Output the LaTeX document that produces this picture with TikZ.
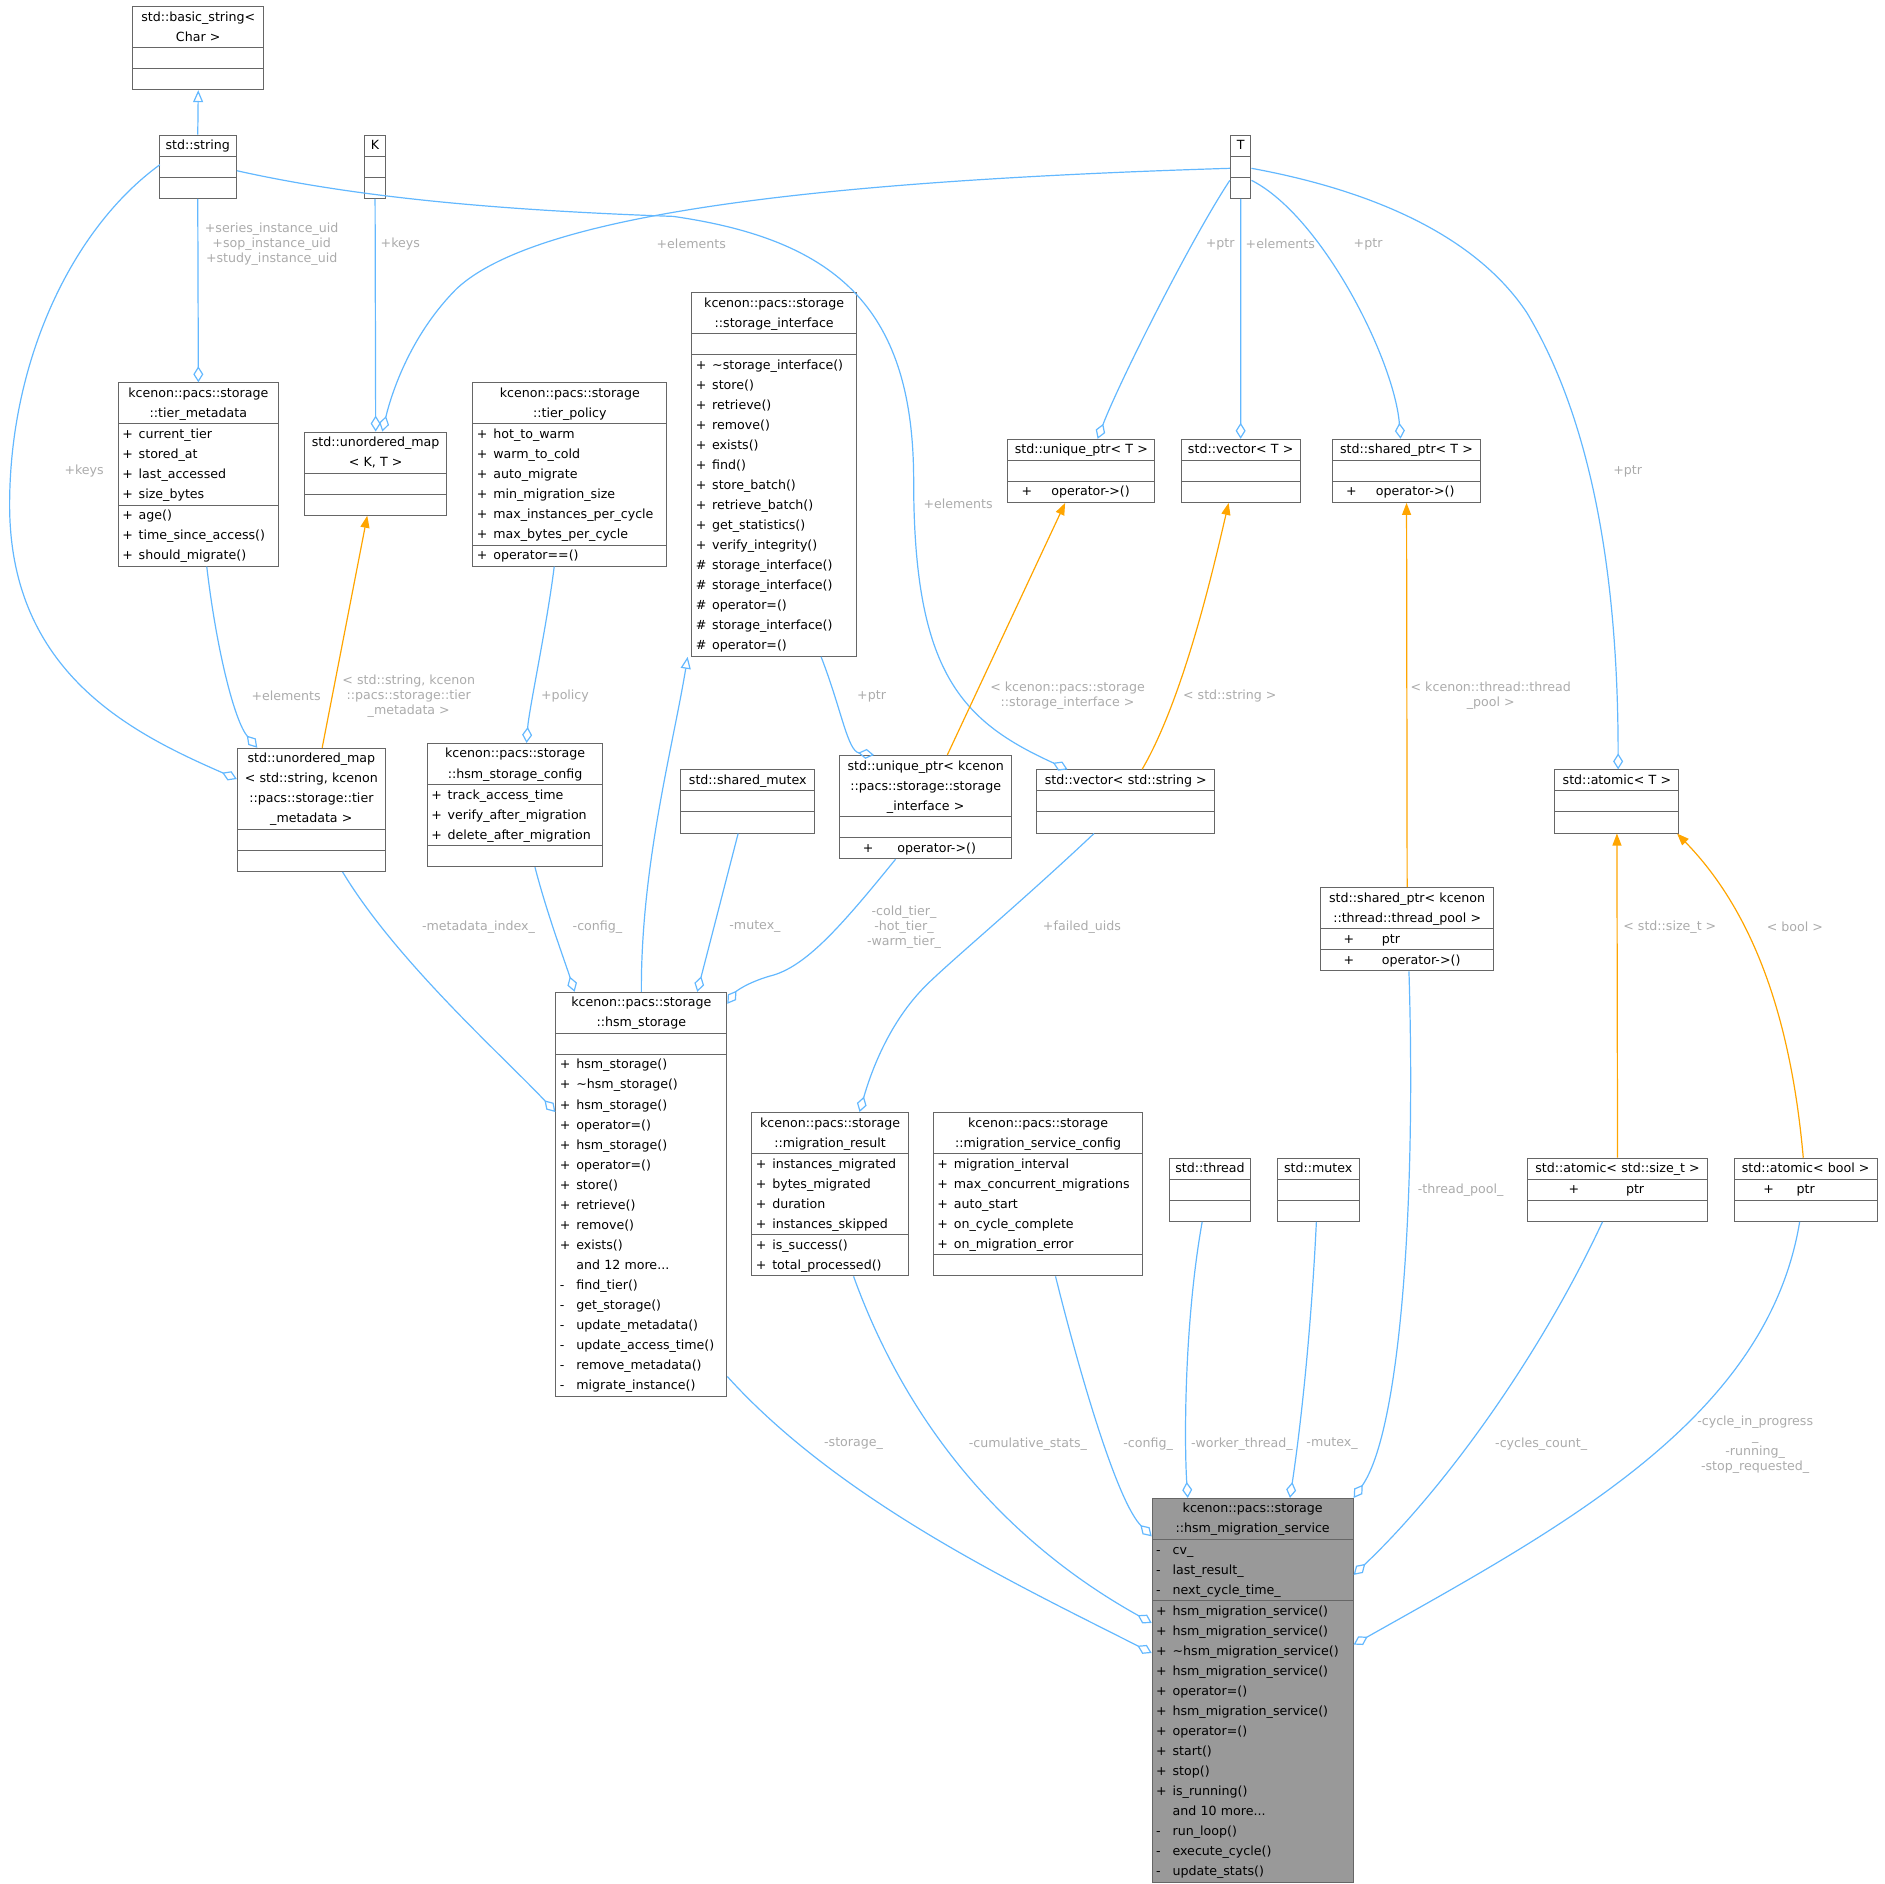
\documentclass[tikz,border=0pt]{standalone}
\usepackage{fontspec}
\setmainfont{DejaVu Sans}
\usetikzlibrary{shapes.multipart,arrows.meta,calc}
\definecolor{eb}{HTML}{63B8FF}
\definecolor{eo}{HTML}{FFA500}
\definecolor{bd}{HTML}{666666}
\definecolor{lg}{HTML}{ABABAB}
\newcommand\tl[1]{\centering\strut#1\par}
\newcommand\mm[2]{\strut\makebox[1.3em][l]{#1}#2\par}
\newcommand\pl[3]{\strut\hspace*{#1}+\hspace*{#2}#3\par}
\newcommand\E{\strut}
\newcommand\cls[6]{\node[cls,text width=#3pt] (#1) at (#2) {#4\nodepart{two}#5\nodepart{three}#6};}
\begin{document}
\catcode`\_=12
\setlength\parindent{0pt}
\begin{tikzpicture}[x=0.6pt,y=-0.6pt,
 cls/.style={draw=bd,fill=white,line width=0.5pt,rectangle split,rectangle split parts=3,
   anchor=north west,inner xsep=2pt,inner ysep=0pt,align=left,
   font=\fontsize{6.3}{10}\selectfont},
 ag/.style={draw=eb,line width=0.6pt,-{Diamond[open,length=8pt,width=5pt]}},
 ih/.style={draw=eb,line width=0.6pt,-{Triangle[open,length=6pt,width=5pt]}},
 tp/.style={draw=eo,line width=0.6pt,-{Triangle[length=6pt,width=4.5pt]}},
 lb/.style={text=lg,align=center,inner sep=0pt,font=\fontsize{6.3}{7.5}\selectfont}]
\useasboundingbox (0,0) rectangle (1568,1567);
% classes
\cls{bs}{110,5}{61.4}{\tl{std::basic_string<}\tl{Char >}}{\E}{\E}
\cls{str}{132,112}{34.5}{\tl{std::string}}{\E}{\E}
\cls{K}{303,112}{6.3}{\tl{K}}{\E}{\E}
\cls{T}{1023,112}{6.3}{\tl{T}}{\E}{\E}
\cls{tm}{98,318}{75.9}{\tl{kcenon::pacs::storage}\tl{::tier_metadata}}{\mm{+}{current_tier}\mm{+}{stored_at}\mm{+}{last_accessed}\mm{+}{size_bytes}}{\mm{+}{age()}\mm{+}{time_since_access()}\mm{+}{should_migrate()}}
\cls{umKT}{253,359}{66.9}{\tl{std::unordered_map}\tl{< K, T >}}{\E}{\E}
\cls{tpo}{393,318}{92.7}{\tl{kcenon::pacs::storage}\tl{::tier_policy}}{\mm{+}{hot_to_warm}\mm{+}{warm_to_cold}\mm{+}{auto_migrate}\mm{+}{min_migration_size}\mm{+}{max_instances_per_cycle}\mm{+}{max_bytes_per_cycle}}{\mm{+}{operator==()}}
\cls{si}{575,243}{78.3}{\tl{kcenon::pacs::storage}\tl{::storage_interface}}{\E}{\mm{+}{\textasciitilde storage_interface()}\mm{+}{store()}\mm{+}{retrieve()}\mm{+}{remove()}\mm{+}{exists()}\mm{+}{find()}\mm{+}{store_batch()}\mm{+}{retrieve_batch()}\mm{+}{get_statistics()}\mm{+}{verify_integrity()}\mm{\#}{storage_interface()}\mm{\#}{storage_interface()}\mm{\#}{operator=()}\mm{\#}{storage_interface()}\mm{\#}{operator=()}}
\cls{upT}{838,365}{69.3}{\tl{std::unique_ptr< T >}}{\E}{\pl{4.8pt}{9.6pt}{operator->()}}
\cls{vT}{982,365}{55.5}{\tl{std::vector< T >}}{\E}{\E}
\cls{spT}{1108,365}{69.9}{\tl{std::shared_ptr< T >}}{\E}{\pl{4.8pt}{9.6pt}{operator->()}}
\cls{umS}{197,622}{69.9}{\tl{std::unordered_map}\tl{< std::string, kcenon}\tl{::pacs::storage::tier}\tl{_metadata >}}{\E}{\E}
\cls{hsc}{355,618}{83.7}{\tl{kcenon::pacs::storage}\tl{::hsm_storage_config}}{\mm{+}{track_access_time}\mm{+}{verify_after_migration}\mm{+}{delete_after_migration}}{\E}
\cls{smx}{566,640}{62.7}{\tl{std::shared_mutex}}{\E}{\E}
\cls{upSI}{698,628}{81.9}{\tl{std::unique_ptr< kcenon}\tl{::pacs::storage::storage}\tl{_interface >}}{\E}{\pl{9.6pt}{12pt}{operator->()}}
\cls{vS}{862,640}{84.9}{\tl{std::vector< std::string >}}{\E}{\E}
\cls{aT}{1293,640}{57.9}{\tl{std::atomic< T >}}{\E}{\E}
\cls{spTP}{1098,738}{82.5}{\tl{std::shared_ptr< kcenon}\tl{::thread::thread_pool >}}{\pl{9.6pt}{13.8pt}{ptr}}{\pl{9.6pt}{13.8pt}{operator->()}}
\cls{hs}{462,825}{81.3}{\tl{kcenon::pacs::storage}\tl{::hsm_storage}}{\E}{\mm{+}{hsm_storage()}\mm{+}{\textasciitilde hsm_storage()}\mm{+}{hsm_storage()}\mm{+}{operator=()}\mm{+}{hsm_storage()}\mm{+}{operator=()}\mm{+}{store()}\mm{+}{retrieve()}\mm{+}{remove()}\mm{+}{exists()}\mm{}{and 12 more...}\mm{-}{find_tier()}\mm{-}{get_storage()}\mm{-}{update_metadata()}\mm{-}{update_access_time()}\mm{-}{remove_metadata()}\mm{-}{migrate_instance()}}
\cls{mr}{625,925}{74.1}{\tl{kcenon::pacs::storage}\tl{::migration_result}}{\mm{+}{instances_migrated}\mm{+}{bytes_migrated}\mm{+}{duration}\mm{+}{instances_skipped}}{\mm{+}{is_success()}\mm{+}{total_processed()}}
\cls{msc}{776,925}{100.5}{\tl{kcenon::pacs::storage}\tl{::migration_service_config}}{\mm{+}{migration_interval}\mm{+}{max_concurrent_migrations}\mm{+}{auto_start}\mm{+}{on_cycle_complete}\mm{+}{on_migration_error}}{\E}
\cls{th}{972,963}{36.9}{\tl{std::thread}}{\E}{\E}
\cls{mx}{1062,963}{36.9}{\tl{std::mutex}}{\E}{\E}
\cls{aS}{1270,963}{86.1}{\tl{std::atomic< std::size_t >}}{\pl{18.6pt}{23.4pt}{ptr}}{\E}
\cls{aB}{1442,963}{67.5}{\tl{std::atomic< bool >}}{\pl{12.6pt}{11.4pt}{ptr}}{\E}
\node[cls,text width=96.3pt,fill=black!40] (svc) at (958,1246) {\tl{kcenon::pacs::storage}\tl{::hsm_migration_service}\nodepart{two}\mm{-}{cv_}\mm{-}{last_result_}\mm{-}{next_cycle_time_}\nodepart{three}\mm{+}{hsm_migration_service()}\mm{+}{hsm_migration_service()}\mm{+}{\textasciitilde hsm_migration_service()}\mm{+}{hsm_migration_service()}\mm{+}{operator=()}\mm{+}{hsm_migration_service()}\mm{+}{operator=()}\mm{+}{start()}\mm{+}{stop()}\mm{+}{is_running()}\mm{}{and 10 more...}\mm{-}{run_loop()}\mm{-}{execute_cycle()}\mm{-}{update_stats()}};
% edges
\draw[ih] (str.north) -- (bs.south);
\draw[ag] ($(str.north west)+(1,25)$) .. controls (60,190) and (8,300) .. (8,420) .. controls (8,560) and (110,610) .. ($(umS.north west)+(0,26)$);
\node[lb] (l1) at (70,392) {+keys};
\draw[ag] (str.south) -- (tm.north);
\node[lb] (l2) at (226,203) {+series_instance_uid\\+sop_instance_uid\\+study_instance_uid};
\draw[ag] ($(str.north west)+(65,30)$) .. controls (300,165) and (420,175) .. (560,180) .. controls (700,200) and (760,260) .. (760,400) .. controls (760,560) and (800,600) .. ($(vS.north west)+(26,0)$);
\node[lb] (l3) at (797,419) {+elements};
\draw[ag] (K.south) -- (umKT.north);
\node[lb] (l4) at (333,203) {+keys};
\draw[ag] ($(T.north west)+(0,28)$) .. controls (700,150) and (450,175) .. (380,240) .. controls (340,280) and (325,330) .. ($(umKT.north west)+(65,0)$);
\node[lb] (l5) at (575,203) {+elements};
\draw[ag] ($(T.north west)+(0,38)$) .. controls (990,200) and (930,320) .. ($(upT.north west)+(75,0)$);
\node[lb] (l6) at (1015,203) {+ptr};
\draw[ag] (T.south) -- (vT.north);
\node[lb] (l7) at (1065,203) {+elements};
\draw[ag] ($(T.north west)+(18,38)$) .. controls (1100,180) and (1160,300) .. ($(spT.north west)+(57,0)$);
\node[lb] (l8) at (1138,203) {+ptr};
\draw[ag] ($(T.north west)+(18,28)$) .. controls (1150,160) and (1230,200) .. (1270,260) .. controls (1330,360) and (1346,500) .. ($(aT.north west)+(53,0)$);
\node[lb] (l9) at (1354,392) {+ptr};
\draw[ag] ($(tm.south)+(7,0)$) .. controls (180,540) and (195,600) .. ($(umS.north west)+(17,0)$);
\node[lb] (l10) at (238,579) {+elements};
\draw[tp] ($(umS.north)+(9,0)$) -- ($(umKT.south)+(-7,0)$);
\node[lb] (l11) at (340,579) {< std::string, kcenon\\::pacs::storage::tier\\_metadata >};
\draw[ag] ($(tpo.south)+(-13,0)$) .. controls (455,520) and (440,590) .. ($(hsc.north)+(9.5,0)$);
\node[lb] (l12) at (470,579) {+policy};
\draw[ag] ($(si.south)+(39,0)$) .. controls (700,590) and (705,625) .. ($(upSI.north)+(-43,0)$);
\node[lb] (l13) at (725,579) {+ptr};
\draw[tp] ($(upSI.north)+(18,0)$) -- ($(upT.south)+(-13.5,0)$);
\node[lb] (l14) at (888,579) {< kcenon::pacs::storage\\::storage_interface >};
\draw[tp] ($(vS.north)+(13.5,0)$) .. controls (985,580) and (1010,470) .. ($(vT.south)+(-10,0)$);
\node[lb] (l15) at (1023,579) {< std::string >};
\draw[tp] (spTP.north) -- (spT.south);
\node[lb] (l16) at (1240,579) {< kcenon::thread::thread\\_pool >};
\draw[tp] (aS.north) -- (aT.south);
\node[lb] (l17) at (1389,771) {< std::size_t >};
\draw[tp] ($(aB.north)+(-2,0)$) .. controls (1490,850) and (1460,760) .. ($(aT.south)+(50,0)$);
\node[lb] (l18) at (1493,771) {< bool >};
\draw[ih] (hs.north) .. controls (533,720) and (560,620) .. ($(si.south)+(-72,0)$);
\draw[ag] ($(umS.south)+(26,0)$) .. controls (330,800) and (420,880) .. ($(hs.north west)+(0,100)$);
\node[lb] (l19) at (398,771) {-metadata_index_};
\draw[ag] ($(hsc.south)+(16.5,0)$) .. controls (455,760) and (470,800) .. ($(hs.north)+(-55.5,0)$);
\node[lb] (l20) at (497,771) {-config_};
\draw[ag] ($(smx.south)+(-8,0)$) -- ($(hs.north)+(46.5,0)$);
\node[lb] (l21) at (628,771) {-mutex_};
\draw[ag] ($(upSI.south)+(-25,0)$) .. controls (700,770) and (670,805) .. (640,812) .. controls (620,818) and (612,825) .. ($(hs.north west)+(143,10)$);
\node[lb] (l22) at (752,771) {-cold_tier_\\-hot_tier_\\-warm_tier_};
\draw[ag] ($(vS.south)+(-26.5,0)$) .. controls (850,750) and (790,800) .. (770,820) .. controls (740,850) and (725,890) .. ($(mr.north)+(24.5,0)$);
\node[lb] (l23) at (900,771) {+failed_uids};
\draw[ag] ($(spTP.south)+(1.5,0)$) .. controls (1178,1000) and (1165,1190) .. ($(svc.north west)+(168,0)$);
\node[lb] (l24) at (1215,990) {-thread_pool_};
\draw[ag] ($(hs.north west)+(143,320)$) .. controls (700,1250) and (850,1320) .. ($(svc.north west)+(0,129)$);
\node[lb] (l25) at (710,1201) {-storage_};
\draw[ag] ($(mr.south)+(19.5,0)$) .. controls (760,1200) and (850,1290) .. ($(svc.north west)+(0,104)$);
\node[lb] (l26) at (855,1201) {-cumulative_stats_};
\draw[ag] ($(msc.south)+(14.5,0)$) .. controls (900,1150) and (930,1250) .. ($(svc.north west)+(0,32)$);
\node[lb] (l27) at (955,1201) {-config_};
\draw[ag] ($(th.south)+(-6.5,0)$) .. controls (985,1100) and (985,1200) .. ($(svc.north west)+(30,0)$);
\node[lb] (l28) at (1033,1201) {-worker_thread_};
\draw[ag] ($(mx.south)+(-1.5,0)$) .. controls (1090,1120) and (1080,1200) .. ($(svc.north west)+(115,0)$);
\node[lb] (l29) at (1108,1201) {-mutex_};
\draw[ag] ($(aS.south)+(-12.5,0)$) .. controls (1280,1130) and (1200,1240) .. ($(svc.north west)+(168,64)$);
\node[lb] (l30) at (1282,1201) {-cycles_count_};
\draw[ag] ($(aB.south)+(-5,0)$) .. controls (1470,1180) and (1300,1270) .. ($(svc.north west)+(168,122)$);
\node[lb] (l31) at (1460,1202) {-cycle_in_progress\\_\\-running_\\-stop_requested_};
\end{tikzpicture}
\end{document}
